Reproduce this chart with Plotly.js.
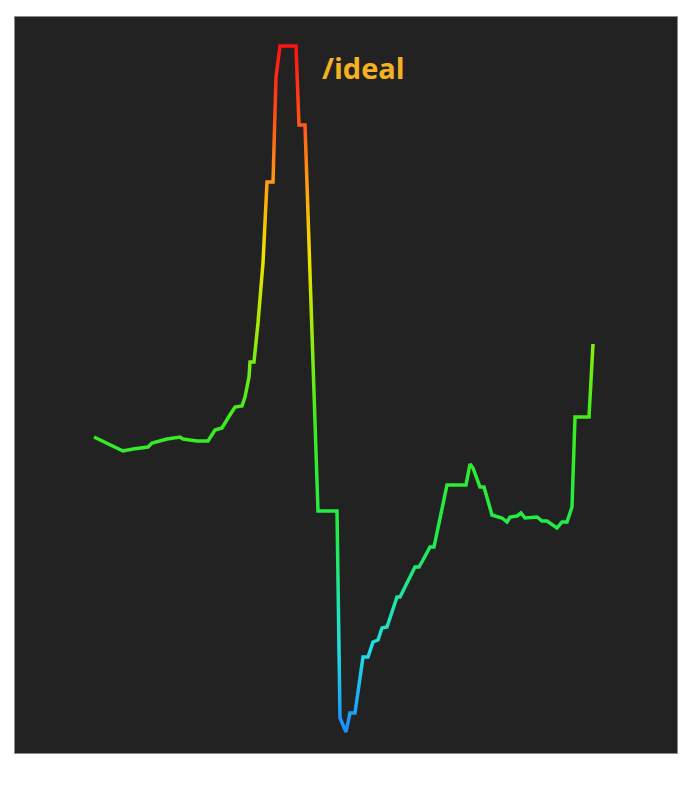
<!DOCTYPE html>
<html>
<head>
<meta charset="utf-8">
<script src="https://cdn.plot.ly/plotly-3.0.1.min.js"></script>
<style>
  html, body { margin: 0; padding: 0; background: #ffffff; }
  #chart { width: 685px; height: 785px; }
</style>
</head>
<body>
<div id="chart"></div>
<script>
// sample position along the trace
let samplePos = [79, 92, 108, 118, 133, 137, 152, 165, 168, 182, 193, 200, 207, 213, 220, 227, 230, 234, 235, 239,
  243, 248, 252, 258, 261, 265, 281, 284, 290, 303, 322, 325, 331, 335, 340, 348, 353, 358, 363, 367,
  372, 382, 385, 400, 404, 408, 415, 419, 432, 451, 455, 458, 465, 469, 477, 487, 492, 495, 502, 506,
  510, 522, 527, 532, 542, 547, 552, 557, 560, 574, 578];

// signal level at each sample
let signal = [316, 310, 302, 304, 306, 310, 314, 316, 314, 312, 312, 323, 325, 335, 346, 347, 356, 376, 391, 391,
  430, 490, 571, 571, 676, 707, 707, 628, 628, 242, 242, 35, 21, 40, 40, 96, 96, 111, 113, 125,
  126, 156, 156, 186, 186, 193, 206, 206, 268, 268, 289, 285, 266, 266, 238, 235, 231, 236, 237, 240,
  235, 236, 232, 232, 225, 231, 231, 246, 336, 336, 409];

let label = '/ideal';

// low -> high
let colorStops = [
  [0, '#1a8cff'],
  [0.12, '#1fdfe6'],
  [0.28, '#1fec4c'],
  [0.45, '#3aec1e'],
  [0.55, '#7eec12'],
  [0.62, '#bce800'],
  [0.7, '#f0e000'],
  [0.8, '#ff9c12'],
  [0.9, '#ff4c18'],
  [1, '#ff1414']
];

let trace = {
  type: 'scatter',
  mode: 'lines',
  x: samplePos,
  y: signal,
  line: { color: '#22ee44', width: 3.5, shape: 'linear' },
  hoverinfo: 'skip',
  showlegend: false
};

let layout = {
  width: 685,
  height: 785,
  margin: { l: 15, r: 8, t: 17, b: 32 },
  paper_bgcolor: '#ffffff',
  plot_bgcolor: '#222222',
  xaxis: {
    range: [0, 662],
    showgrid: false, zeroline: false, showticklabels: false, ticks: '',
    showline: true, mirror: true, linecolor: '#8c8c8c', linewidth: 1
  },
  yaxis: {
    range: [0, 736],
    showgrid: false, zeroline: false, showticklabels: false, ticks: '',
    showline: true, mirror: true, linecolor: '#8c8c8c', linewidth: 1
  },
  annotations: [{
    xref: 'paper', yref: 'paper',
    x: 0.461, y: 0.932,
    xanchor: 'left', yanchor: 'middle',
    text: '<b>' + label + '</b>',
    showarrow: false,
    font: { family: 'Open Sans, sans-serif', size: 29, color: '#f4b223' }
  }]
};

Plotly.newPlot('chart', [trace], layout, { staticPlot: true }).then(function (gd) {
  // colour the line by its level with a vertical gradient over the path's own box
  let svg = gd.querySelector('svg.main-svg');
  let defs = svg.querySelector('defs');
  let ns = 'http://www.w3.org/2000/svg';
  let grad = document.createElementNS(ns, 'linearGradient');
  grad.setAttribute('id', 'levelGrad');
  grad.setAttribute('x1', '0');
  grad.setAttribute('y1', '1');
  grad.setAttribute('x2', '0');
  grad.setAttribute('y2', '0');
  colorStops.forEach(function (s) {
    let stop = document.createElementNS(ns, 'stop');
    stop.setAttribute('offset', s[0]);
    stop.setAttribute('stop-color', s[1]);
    grad.appendChild(stop);
  });
  defs.appendChild(grad);
  gd.querySelectorAll('.scatterlayer .trace path.js-line').forEach(function (p) {
    p.style.setProperty('stroke', 'url(#levelGrad)');
    p.style.setProperty('stroke-linejoin', 'miter');
  });
});
</script>
</body>
</html>
